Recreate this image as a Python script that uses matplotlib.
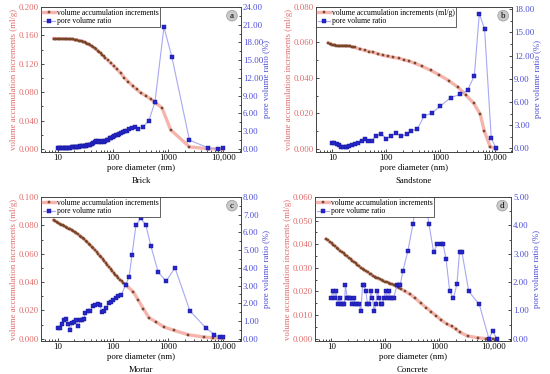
import matplotlib.pyplot as plt
from matplotlib.ticker import FormatStrFormatter, LogLocator, NullFormatter, MultipleLocator

plt.rcParams['font.family'] = ['Liberation Serif', 'DejaVu Serif']

# ---------------- Brick (a) ----------------
brick_d_vol = [8.5, 9, 9.5, 10, 10.6, 11.2, 11.9, 12.6, 13.4, 14.2, 15.1, 16, 17, 18, 19.1, 20.3,
               21.5, 22.8, 24.2, 25.7, 27.3, 29, 30.8, 32.7, 34.7, 36.9, 39.2, 41.6, 44.2, 47, 50,
               53.2, 56.6, 60.2, 64, 68.1, 72.5, 82, 92, 104, 120, 140, 161, 190, 228, 269, 323,
               398, 490, 597, 777, 1120, 2450, 5300, 8100, 9900]
brick_vol = [0.1555, 0.1555, 0.1555, 0.1555, 0.1554, 0.1554, 0.1553, 0.1553, 0.1552, 0.1551, 0.155,
             0.1549, 0.1547, 0.1545, 0.1543, 0.154, 0.1537, 0.1533, 0.1528, 0.1523, 0.1517, 0.151,
             0.1502, 0.1493, 0.1483, 0.1472, 0.146, 0.1447, 0.1433, 0.1418, 0.1402, 0.1385, 0.1367,
             0.1348, 0.1328, 0.1307, 0.1285, 0.125, 0.121, 0.117, 0.112, 0.1065, 0.1005, 0.095,
             0.089, 0.084, 0.079, 0.075, 0.070, 0.065, 0.058, 0.027, 0.003, 0.0003, 0.0, 0.0]
brick_d_ratio = [10, 10.6, 11.2, 11.9, 12.6, 13.4, 14.2, 15.1, 16, 17, 18, 19.1, 20.3, 21.5, 22.8,
                 24.2, 25.7, 27.3, 29, 30.8, 32.7, 34.7, 36.9, 39.2, 41.6, 44.2, 47, 50, 53.2, 56.6,
                 60.2, 64, 68.1, 72.5, 77, 82, 88, 94, 100, 107, 114, 122, 130, 140, 150, 165, 180,
                 200, 220, 250, 289, 356, 452, 580, 845, 1180, 2450, 5300, 8100, 9900]
brick_ratio = [0.1, 0.1, 0.12, 0.12, 0.15, 0.15, 0.18, 0.18, 0.2, 0.22, 0.25, 0.28, 0.3, 0.3, 0.35,
               0.4, 0.5, 0.45, 0.45, 0.5, 0.55, 0.7, 0.7, 0.75, 0.8, 1.0, 1.25, 1.4, 1.3, 1.25, 1.2,
               1.3, 1.25, 1.4, 1.5, 1.6, 1.8, 1.9, 2.0, 2.2, 2.3, 2.4, 2.6, 2.7, 2.8, 3.0, 3.1, 3.4,
               3.6, 3.75, 3.4, 3.75, 4.8, 7.9, 20.6, 15.5, 1.5, 0.2, 0.0, 0.1]

# ---------------- Sandstone (b) ----------------
sand_d_vol = [8.5, 9, 9.5, 10, 10.6, 11.2, 11.9, 12.6, 13.4, 14.2, 15.1, 16, 17, 18, 19.1, 20.3,
              21.5, 22.8, 24.2, 26, 33, 40, 48, 57, 70, 86, 106, 135, 174, 213, 263, 336, 464, 662,
              936, 1430, 2120, 2930, 4110, 5450, 6450, 8300, 10700]
sand_vol = [0.0598, 0.0594, 0.059, 0.0587, 0.0585, 0.0584, 0.0583, 0.0583, 0.0582, 0.0582, 0.0582,
            0.0582, 0.0582, 0.0581, 0.0581, 0.058, 0.0579, 0.0577, 0.0575, 0.0572, 0.0562, 0.0555,
            0.0549, 0.0544, 0.0536, 0.0528, 0.0522, 0.0516, 0.051, 0.0502, 0.0495, 0.0483, 0.0465,
            0.0443, 0.0418, 0.0385, 0.0347, 0.0305, 0.0258, 0.0195, 0.0102, 0.0013, 0.0]
sand_d_ratio = [10, 10.9, 12, 13.3, 14.4, 15.9, 17.6, 19.1, 20.8, 23.2, 26, 29.9, 35.4, 39.7, 45.7,
                54, 65, 80, 99, 122, 151, 186, 236, 291, 374, 499, 707, 1000, 1540, 2340, 3190,
                4230, 5220, 6530, 8700, 10700]
sand_ratio = [0.73, 0.7, 0.6, 0.4, 0.22, 0.17, 0.17, 0.17, 0.3, 0.45, 0.6, 0.68, 1.0, 1.15, 1.0,
              1.0, 1.65, 1.9, 1.25, 1.55, 2.0, 1.55, 1.8, 2.28, 2.5, 4.18, 4.6, 5.48, 6.55, 7.0,
              7.55, 9.4, 17.4, 15.5, 1.27, 0.0]

# ---------------- Mortar (c) ----------------
mortar_d_vol = [8.5, 9, 9.6, 10.2, 10.9, 11.6, 12.4, 13.2, 14.1, 15, 16, 17.1, 18.2, 19.4, 20.7, 22,
                23.5, 25, 26.7, 28.5, 30.4, 32.4, 34.5, 36.8, 39.3, 41.9, 44.7, 47.7, 50.9, 54.3,
                57.9, 61.8, 65.9, 70.3, 75, 80, 85.4, 91, 97, 104, 111, 118, 126, 135, 144, 153,
                164, 175, 235, 289, 356, 452, 603, 850, 1260, 2350, 4420, 6600, 10000]
mortar_vol = [0.0835, 0.083, 0.0824, 0.0818, 0.0812, 0.0806, 0.08, 0.0795, 0.0789, 0.0783, 0.0777,
              0.0771, 0.0765, 0.0758, 0.0751, 0.0744, 0.0736, 0.0728, 0.072, 0.0711, 0.0702, 0.0692,
              0.0682, 0.0671, 0.066, 0.0649, 0.0637, 0.0625, 0.0613, 0.06, 0.0587, 0.0574, 0.0561,
              0.0548, 0.0535, 0.0521, 0.0507, 0.0493, 0.0479, 0.0465, 0.0452, 0.044, 0.0428,
              0.0417, 0.0406, 0.0396, 0.0386, 0.0376, 0.0332, 0.0273, 0.0213, 0.0149, 0.0119,
              0.0083, 0.006, 0.0028, 0.0012, 0.0007, 0.0003]
mortar_d_ratio = [10, 11, 11.8, 12.9, 14.2, 15.7, 16.8, 18.3, 20.2, 21.6, 23.8, 25.6, 27.9, 29.9,
                  31.6, 35.3, 39, 43.5, 48, 53.6, 57.6, 64.5, 69, 76, 84, 91.5, 101, 113, 124, 143,
                  172, 198, 222, 263, 318, 397, 490, 667, 923, 1340, 2500, 4860, 6920, 8700, 10100]
mortar_ratio = [0.6, 0.62, 0.84, 1.03, 1.12, 0.84, 0.49, 0.9, 0.94, 1.03, 0.74, 1.03, 1.03, 1.12,
                1.44, 1.57, 1.57, 1.82, 1.9, 1.96, 1.9, 1.5, 1.55, 1.71, 2.01, 2.05, 2.2, 2.3, 2.39,
                2.49, 3.06, 3.5, 4.7, 6.4, 6.8, 6.43, 5.23, 3.75, 3.25, 4.0, 1.57, 0.61, 0.23, 0.08,
                0.08]

# ---------------- Concrete (d) ----------------
conc_d_vol = [8.1, 8.7, 9.4, 10.1, 10.9, 11.7, 12.6, 13.6, 14.6, 15.7, 16.9, 18.2, 19.6, 21.1, 22.7,
              24.4, 26.3, 28.3, 30.5, 32.8, 35.3, 38, 40.9, 44, 47.4, 51, 54.9, 59.1, 63.6, 68.5,
              73.7, 79.4, 85.5, 92, 99, 107, 115, 124, 133, 143, 154, 166, 179, 195, 232, 287, 355,
              447, 575, 712, 880, 1090, 1350, 1670, 1990, 2350, 3320, 5100, 7200, 9570]
conc_vol = [0.0422, 0.0416, 0.041, 0.0404, 0.0398, 0.0392, 0.0386, 0.0379, 0.0373, 0.0367, 0.0361,
            0.0355, 0.0349, 0.0343, 0.0337, 0.0331, 0.0325, 0.0319, 0.0313, 0.0307, 0.0301,
            0.0296, 0.0291, 0.0286, 0.0281, 0.0276, 0.0272, 0.0267, 0.0263, 0.0259, 0.0255,
            0.0251, 0.0248, 0.0245, 0.0242, 0.0239, 0.0236, 0.0233, 0.023, 0.0227, 0.0224, 0.022,
            0.0216, 0.0211, 0.02, 0.0188, 0.0172, 0.0151, 0.0131, 0.0113, 0.0096, 0.0078, 0.0063,
            0.0052, 0.0042, 0.0028, 0.0011, 0.0004, 0.0, 0.0]
conc_d_ratio = [10, 10.7, 11.5, 12.3, 13.2, 14.2, 15.2, 16.3, 17.5, 18.3, 19.6, 21, 22.5, 24.2, 25.9,
                27.8, 29.8, 32.9, 35.3, 37.9, 40.6, 43.6, 46.7, 50.1, 53.7, 57.6, 61.8, 66.3, 71.1,
                76.2, 81.8, 87.7, 94, 101, 108, 116, 124, 133, 143, 164, 176, 189, 211, 260, 323,
                400, 520, 640, 780, 915, 1050, 1170, 1320, 1550, 1810, 2100, 2350, 2600, 3480, 5450,
                8200, 9600, 11500]
conc_ratio = [1.45, 1.67, 1.45, 1.67, 1.21, 1.45, 1.21, 1.21, 1.21, 1.9, 1.45, 1.45, 1.45, 1.21,
              1.45, 1.21, 1.21, 1.21, 0.97, 1.9, 1.9, 1.67, 1.21, 1.21, 1.67, 1.45, 0.97, 1.21,
              1.67, 1.45, 1.21, 1.21, 1.45, 1.67, 1.45, 1.67, 1.45, 1.45, 1.45, 1.9, 1.9, 1.9, 2.39,
              3.09, 4.04, 5.3, 5.3, 4.04, 3.06, 3.33, 3.33, 3.33, 2.82, 1.67, 1.43, 1.92, 3.06, 3.06,
              1.67, 1.21, 0.0, 0.27, 0.0]

x_ticks = [10, 100, 1000, 10000]
x_tick_labels = ['10', '100', '1000', '10,000']

color_izq = '#e06a6a'
color_der = '#4a4ad6'


def panel(fig, pos, d_vol, vol, d_ratio, ratio, ylim_vol, paso_vol, ylim_ratio, paso_ratio,
          letra, nombre, texto_vol):
    ax = fig.add_axes(pos)
    ax2 = ax.twinx()

    # volume accumulation increments
    l1, = ax.plot(d_vol, vol, color='#f6b4ae', lw=2.4, marker='s', ms=2.1,
                  mfc='#8e5a36', mec='#5a3218', mew=0.3, zorder=3)
    # pore volume ratio
    l2, = ax2.plot(d_ratio, ratio, color='#a8a8f4', lw=0.8, marker='s', ms=2.3,
                   mfc='#2626cc', mec='#14148e', mew=0.3, zorder=3)

    ax.set_xscale('log')
    ax.set_xlim(5, 21000)
    ax.set_xticks(x_ticks)
    ax.set_xticklabels(x_tick_labels)
    ax.xaxis.set_minor_locator(LogLocator(base=10, subs=range(2, 10)))
    ax.xaxis.set_minor_formatter(NullFormatter())

    ax.set_ylim(*ylim_vol)
    ax.yaxis.set_major_locator(MultipleLocator(paso_vol))
    ax.yaxis.set_minor_locator(MultipleLocator(paso_vol / 2))
    ax.yaxis.set_major_formatter(FormatStrFormatter('%.3f'))
    ax2.set_ylim(*ylim_ratio)
    ax2.yaxis.set_major_locator(MultipleLocator(paso_ratio))
    ax2.yaxis.set_minor_locator(MultipleLocator(paso_ratio / 2))
    ax2.yaxis.set_major_formatter(FormatStrFormatter('%.2f'))

    ax.tick_params(axis='x', which='both', direction='in', labelsize=6.3, pad=1.5,
                   length=2.5, width=0.5)
    ax.tick_params(axis='x', which='minor', length=1.5)
    ax.tick_params(axis='y', which='both', direction='in', labelsize=6.3, pad=1.5,
                   labelcolor=color_izq, length=2.5, width=0.5)
    ax.tick_params(axis='y', which='minor', length=1.5)
    ax2.tick_params(axis='y', which='both', direction='in', labelsize=6.3, pad=1.5,
                    labelcolor=color_der, length=2.5, width=0.5)
    ax2.tick_params(axis='y', which='minor', length=1.5)

    for a in (ax, ax2):
        for s in a.spines.values():
            s.set_color('#444444')
            s.set_linewidth(0.6)

    ax.set_ylabel('volume accumulation increments (ml/g)', fontsize=6.3, color=color_izq)
    ax.yaxis.set_label_coords(-0.115, 0.5)
    ax2.set_ylabel('pore volume ratio (%)', fontsize=6.3, color=color_der)
    ax2.yaxis.set_label_coords(1.11, 0.5)
    ax.set_xlabel('pore diameter (nm)', fontsize=6.3)
    ax.xaxis.set_label_coords(0.5, -0.085)
    ax.text(0.5, -0.2, nombre, transform=ax.transAxes, ha='center', va='center', fontsize=6.3)

    leg = ax2.legend([l1, l2], [texto_vol, 'pore volume ratio'], loc='upper left',
                     bbox_to_anchor=(0, 1), borderaxespad=0, fontsize=5.5, fancybox=False,
                     edgecolor='#222222', framealpha=1, handlelength=1.6, handletextpad=0.3,
                     borderpad=0.2, labelspacing=0.1)
    leg.get_frame().set_linewidth(0.5)

    ax2.text(0.955, 0.94, letra, transform=ax2.transAxes, ha='center', va='center', fontsize=6.5,
             bbox=dict(boxstyle='circle,pad=0.15', fc='#c9c9c9', ec='#9a9a9a', lw=0.5))


fig = plt.figure(figsize=(5.5, 3.74), dpi=100)

panel(fig, [0.0745, 0.5936, 0.3636, 0.3877], brick_d_vol, brick_vol, brick_d_ratio, brick_ratio,
      (-0.0042, 0.2), 0.04, (-0.51, 24), 3, 'a', 'Brick', 'volume accumulation increments')
panel(fig, [0.5745, 0.5936, 0.3564, 0.3877], sand_d_vol, sand_vol, sand_d_ratio, sand_ratio,
      (-0.0017, 0.08), 0.02, (-0.48, 18.3), 3, 'b', 'Sandstone',
      'volume accumulation increments (ml/g)')
panel(fig, [0.0745, 0.0882, 0.3636, 0.385], mortar_d_vol, mortar_vol, mortar_d_ratio, mortar_ratio,
      (-0.0016, 0.1), 0.02, (-0.13, 8), 1, 'c', 'Mortar', 'volume accumulation increments')
panel(fig, [0.5727, 0.0882, 0.3564, 0.385], conc_d_vol, conc_vol, conc_d_ratio, conc_ratio,
      (-0.001, 0.06), 0.01, (-0.08, 5), 1, 'd', 'Concrete', 'volume accumulation increments')

fig.savefig('out.png', dpi=100)
